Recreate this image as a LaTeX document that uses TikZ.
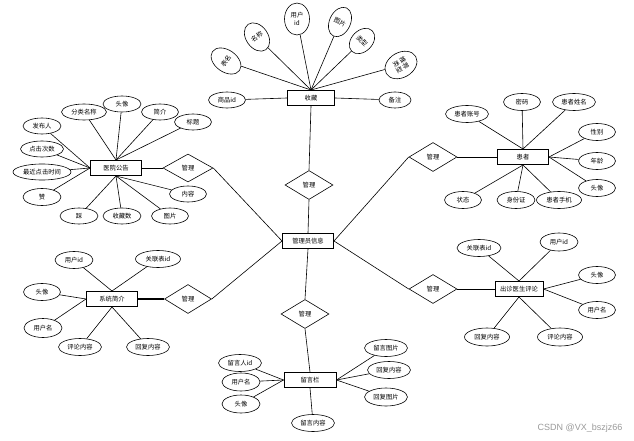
\documentclass[tikz,border=0pt]{standalone}
\usepackage{fontspec}
\usetikzlibrary{shapes.geometric}
\newfontfamily\cjk{Noto Sans CJK SC}
\newfontfamily\wmfont{Liberation Sans}
\begin{document}
\begin{tikzpicture}[x=1pt,y=-1pt,
  lbl/.style={font=\cjk\fontsize{6.3}{7.5}\selectfont},
  attr/.style={ellipse,draw,line width=0.6pt,inner sep=0pt,minimum height=16pt,lbl},
  ent/.style={rectangle,draw,line width=1pt,minimum width=50pt,minimum height=15pt,inner sep=0pt,lbl},
  rel/.style={diamond,draw,line width=0.6pt,minimum width=48pt,minimum height=29pt,inner sep=0pt,lbl},
  conn/.style={line width=0.6pt}]
\useasboundingbox (0,0) rectangle (634,441);

% ---------- 收藏 ----------
\node[ent,minimum width=47pt] (sc) at (311,98) {收藏};
\node[attr,minimum width=37pt] (sc1) at (227,100) {商品id};
\node[attr,minimum width=32pt] (sc2) at (395,100) {备注};
\node[attr,minimum width=22pt,minimum height=33pt,rotate=55] (sc3) at (226,61) {表名};
\node[attr,minimum width=22pt,minimum height=31pt,rotate=35] (sc4) at (257,37) {名称};
\node[attr,minimum width=25pt,minimum height=32pt,align=center] (sc5) at (297,19) {用户\\id};
\node[attr,minimum width=21pt,minimum height=31pt,rotate=-25] (sc6) at (340,22) {图片};
\node[attr,minimum width=21pt,minimum height=29pt,rotate=-45] (sc7) at (362,41) {类型};
\node[attr,minimum width=25pt,minimum height=34pt,rotate=-60,align=center] (sc8) at (401,65) {推荐\\类型};
\draw[conn] (sc1) -- (sc.west);
\draw[conn] (sc2) -- (sc.east);
\foreach \n in {sc3,sc4,sc5,sc6,sc7,sc8} \draw[conn] (\n) -- (sc.north);

% ---------- 管理员信息 ----------
\node[ent,minimum width=51pt] (adm) at (308,241) {管理员信息};
\node[rel] (r0) at (309,185) {管理};
\draw[conn] (sc.south) -- (r0.north);
\draw[conn] (r0.south) -- (adm.north);

% ---------- 医院公告 ----------
\node[ent,minimum width=51pt] (gg) at (116,168) {医院公告};
\node[rel,minimum width=50pt,minimum height=28pt] (r1) at (188,168) {管理};
\draw[conn] (gg.east) -- (r1.west);
\draw[conn] (r1.east) -- (adm.west);
\node[attr,minimum width=38pt] (g1) at (42,126) {发布人};
\node[attr,minimum width=43pt] (g2) at (42,149) {点击次数};
\node[attr,minimum width=58pt] (g3) at (42,172) {最近点击时间};
\node[attr,minimum width=38pt,minimum height=17pt] (g4) at (42,197) {赞};
\node[attr,minimum width=38pt] (g5) at (79,216) {踩};
\node[attr,minimum width=38pt] (g6) at (122,216) {收藏数};
\node[attr,minimum width=37pt] (g7) at (170,216) {图片};
\node[attr,minimum width=37pt] (g8) at (188,194) {内容};
\node[attr,minimum width=37pt] (g9) at (193,122) {标题};
\node[attr,minimum width=37pt] (g10) at (160,112) {简介};
\node[attr,minimum width=38pt] (g11) at (122,104) {头像};
\node[attr,minimum width=45pt] (g12) at (84,112) {分类名称};
\foreach \n in {g1,g2,g3,g4} \draw[conn] (\n) -- (gg.west);
\foreach \n in {g5,g6,g7,g8} \draw[conn] (\n) -- (gg.south);
\foreach \n in {g9,g10,g11,g12} \draw[conn] (\n) -- (gg.north);

% ---------- 患者 ----------
\node[ent,minimum width=51pt] (hz) at (523,157) {患者};
\node[rel] (r2) at (433,157) {管理};
\draw[conn] (r2.east) -- (hz.west);
\draw[conn] (adm.east) -- (r2.west);
\node[attr,minimum width=43pt,minimum height=17pt] (h1) at (467,114) {患者账号};
\node[attr,minimum width=37pt,minimum height=17pt] (h2) at (522,102) {密码};
\node[attr,minimum width=43pt,minimum height=17pt] (h3) at (574,102) {患者姓名};
\node[attr,minimum width=37pt,minimum height=17pt] (h4) at (597,132) {性别};
\node[attr,minimum width=37pt,minimum height=17pt] (h5) at (597,161) {年龄};
\node[attr,minimum width=37pt,minimum height=17pt] (h6) at (597,188) {头像};
\node[attr,minimum width=45pt,minimum height=17pt] (h7) at (559,200) {患者手机};
\node[attr,minimum width=38pt,minimum height=17pt] (h8) at (516,200) {身份证};
\node[attr,minimum width=37pt,minimum height=17pt] (h9) at (463,200) {状态};
\foreach \n in {h1,h2,h3} \draw[conn] (\n) -- (hz.north);
\foreach \n in {h4,h5,h6} \draw[conn] (\n) -- (hz.east);
\foreach \n in {h7,h8,h9} \draw[conn] (\n) -- (hz.south);

% ---------- 出诊医生评论 ----------
\node[ent,minimum width=48pt] (pl) at (519,289) {出诊医生评论};
\node[rel] (r3) at (433,289) {管理};
\draw[conn] (r3.east) -- (pl.west);
\draw[conn] (adm.east) -- (r3.west);
\node[attr,minimum width=44pt,minimum height=17pt] (p1) at (479,248) {关联表id};
\node[attr,minimum width=38pt,minimum height=18pt] (p2) at (559,242) {用户id};
\node[attr,minimum width=37pt,minimum height=17pt] (p3) at (597,275) {头像};
\node[attr,minimum width=37pt,minimum height=17pt] (p4) at (597,310) {用户名};
\node[attr,minimum width=45pt,minimum height=18pt] (p5) at (560,337) {评论内容};
\node[attr,minimum width=45pt,minimum height=18pt] (p6) at (487,337) {回复内容};
\foreach \n in {p1,p2} \draw[conn] (\n) -- (pl.north);
\foreach \n in {p3,p4} \draw[conn] (\n) -- (pl.east);
\foreach \n in {p5,p6} \draw[conn] (\n) -- (pl.south);

% ---------- 系统简介 ----------
\node[ent,minimum width=51pt] (jj) at (112,299) {系统简介};
\node[rel,minimum width=47pt] (r4) at (188,299) {管理};
\draw[line width=1.3pt] (jj.east) -- (r4.west);
\draw[conn] (r4.east) -- (adm.west);
\node[attr,minimum width=38pt,minimum height=17pt] (j1) at (74,260) {用户id};
\node[attr,minimum width=45pt,minimum height=17pt] (j2) at (158,259) {关联表id};
\node[attr,minimum width=37pt,minimum height=17pt] (j3) at (42,292) {头像};
\node[attr,minimum width=38pt,minimum height=19pt] (j4) at (43,328) {用户名};
\node[attr,minimum width=43pt,minimum height=17pt] (j5) at (80,347) {评论内容};
\node[attr,minimum width=43pt,minimum height=17pt] (j6) at (148,347) {回复内容};
\foreach \n in {j1,j2} \draw[conn] (\n) -- (jj.north);
\foreach \n in {j3,j4} \draw[conn] (\n) -- (jj.west);
\foreach \n in {j5,j6} \draw[conn] (\n) -- (jj.south);

% ---------- 留言栏 ----------
\node[rel] (r5) at (305,314) {管理};
\node[ent,minimum width=52pt] (ly) at (310,380) {留言栏};
\draw[conn] (adm.south) -- (r5.north);
\draw[conn] (r5.south) -- (ly.north);
\node[attr,minimum width=43pt,minimum height=17pt] (l1) at (240,363) {留言人id};
\node[attr,minimum width=38pt,minimum height=18pt] (l2) at (241,382) {用户名};
\node[attr,minimum width=38pt,minimum height=18pt] (l3) at (241,404) {头像};
\node[attr,minimum width=43pt,minimum height=17pt] (l4) at (313,423) {留言内容};
\node[attr,minimum width=43pt,minimum height=17pt] (l5) at (386,348) {留言图片};
\node[attr,minimum width=43pt,minimum height=17pt] (l6) at (389,370) {回复内容};
\node[attr,minimum width=43pt,minimum height=18pt] (l7) at (386,397) {回复图片};
\foreach \n in {l1,l2,l3} \draw[conn] (\n) -- (ly.west);
\foreach \n in {l5,l6,l7} \draw[conn] (\n) -- (ly.east);
\draw[conn] (l4) -- (ly.south);

% ---------- watermark ----------
\node[font=\wmfont\fontsize{9}{10}\selectfont,text=black!40] (wm) at (580,428) {CSDN @VX\_bszjz66};
\end{tikzpicture}
\end{document}
